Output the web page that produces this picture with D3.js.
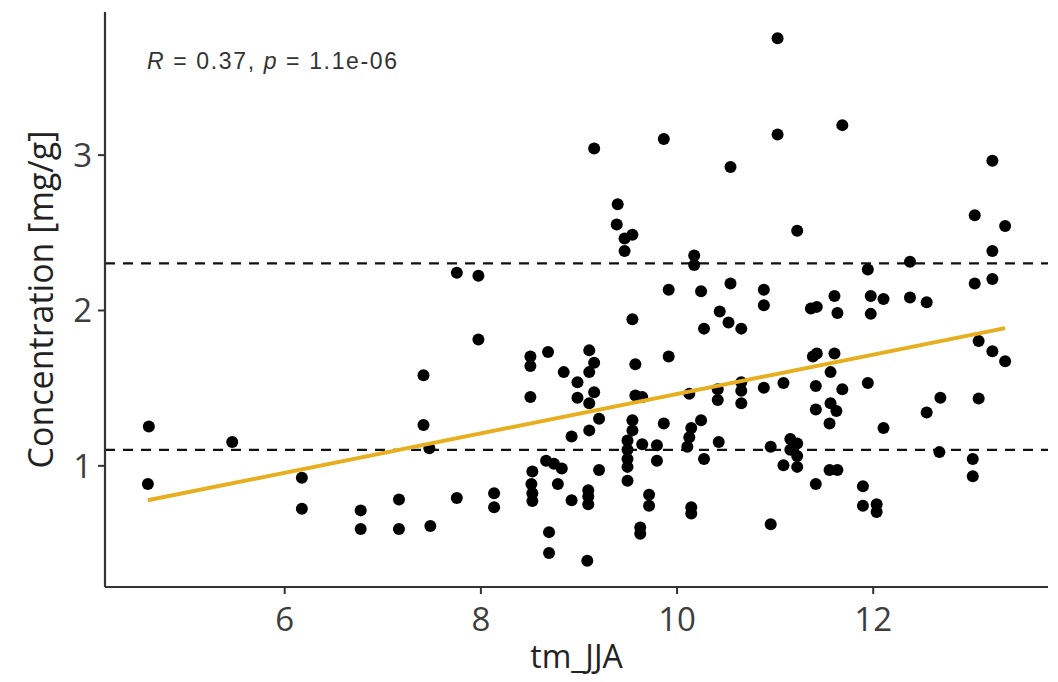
<!DOCTYPE html>
<html>
<head>
<meta charset="utf-8">
<script src="https://cdn.jsdelivr.net/npm/d3@7"></script>
<style>
  html, body { margin: 0; padding: 0; background: #fff; }
  svg { display: block; }
</style>
</head>
<body>
<svg id="chart" width="1058" height="682"></svg>
<script>
// ---- data ----
const tmJJA = [
  4.62, 4.61, 5.47, 6.18, 6.18, 6.78, 6.78, 7.17, 7.17, 7.42,
  7.42, 7.48, 7.49, 7.76, 7.76, 7.98, 7.98, 8.14, 8.14, 8.51,
  8.51, 8.69, 8.51, 8.85, 8.99, 8.99, 9.11, 9.16, 9.11, 9.16,
  9.11, 9.21, 9.11, 8.93, 8.67, 8.75, 8.83, 8.53, 8.52, 8.53,
  8.53, 8.79, 8.93, 9.10, 9.10, 9.10, 9.21, 8.70, 8.70, 9.09,
  9.16, 9.40, 9.39, 9.47, 9.55, 9.47, 9.55, 9.58, 9.58, 9.65,
  9.55, 9.55, 9.50, 9.50, 9.50, 9.50, 9.50, 9.65, 9.72, 9.72,
  9.63, 9.63, 9.87, 9.80, 9.80, 9.92, 9.87, 9.92,
  10.18, 10.18, 10.25, 10.28, 10.13, 10.25, 10.15, 10.13, 10.11, 10.28,
  10.15, 10.15, 10.42, 10.42, 10.43, 10.44, 10.53, 10.66, 10.55, 10.55,
  10.66, 10.66, 10.66, 10.89, 10.89, 10.89, 10.96, 10.96, 11.03, 11.03,
  11.09, 11.16, 11.23, 11.16, 11.23, 11.09, 11.23, 11.23, 11.37, 11.43,
  11.39, 11.43, 11.61, 11.57, 11.69, 11.42, 11.42, 11.57, 11.63, 11.56,
  11.42, 11.56, 11.64, 11.61, 11.64, 11.69, 11.95, 11.98, 12.11, 11.98,
  11.95, 12.11, 11.90, 11.90, 12.04, 12.04, 12.38, 12.38, 12.55, 12.55,
  12.69, 12.68, 13.02, 13.02, 13.08, 13.08, 13.22, 13.35, 13.04, 13.35,
  13.22, 13.04, 13.22, 13.22
];
const concentration = [
  1.25, 0.88, 1.15, 0.92, 0.72, 0.71, 0.59, 0.78, 0.59, 1.58,
  1.26, 1.11, 0.61, 2.24, 0.79, 2.22, 1.81, 0.82, 0.73, 1.70,
  1.64, 1.73, 1.44, 1.60, 1.535, 1.435, 1.74, 1.66, 1.60, 1.47,
  1.40, 1.30, 1.225, 1.185, 1.03, 1.01, 0.98, 0.96, 0.88, 0.82,
  0.77, 0.88, 0.775, 0.84, 0.80, 0.75, 0.97, 0.57, 0.435, 0.385,
  3.04, 2.68, 2.55, 2.46, 2.485, 2.38, 1.94, 1.65, 1.45, 1.44,
  1.29, 1.225, 1.16, 1.10, 1.04, 0.99, 0.90, 1.135, 0.81, 0.74,
  0.60, 0.56, 1.27, 1.13, 1.03, 1.70, 3.10, 2.13,
  2.35, 2.29, 2.12, 1.88, 1.46, 1.29, 1.24, 1.18, 1.12, 1.04,
  0.73, 0.69, 1.49, 1.42, 1.15, 1.99, 1.92, 1.88, 2.17, 2.92,
  1.535, 1.48, 1.40, 2.13, 2.03, 1.50, 1.12, 0.62, 3.75, 3.13,
  1.53, 1.17, 1.14, 1.10, 1.06, 1.00, 0.99, 2.51, 2.01, 2.02,
  1.70, 1.72, 1.72, 1.60, 1.49, 1.51, 1.36, 1.40, 1.35, 1.27,
  0.88, 0.97, 0.97, 2.09, 1.98, 3.19, 2.26, 2.09, 2.07, 1.975,
  1.53, 1.24, 0.865, 0.74, 0.75, 0.70, 2.31, 2.08, 2.05, 1.34,
  1.435, 1.085, 1.04, 0.93, 1.43, 1.80, 1.735, 1.67, 2.61, 2.54,
  2.38, 2.17, 2.20, 2.96
];
const thresholds = [2.3, 1.1];
const xTicks = [6, 8, 10, 12];
const yTicks = [1, 2, 3];
const xTitle = "tm_JJA";
const yTitle = "Concentration [mg/g]";
const statR = "0.37";
const statP = "1.1e-06";

// ---- layout ----
const svg = d3.select("#chart");
const plotL = 105, plotR = 1048, plotT = 12, plotB = 587;
const axisColor = "#333333";
const tickFont = "'Open Sans', 'Noto Sans', sans-serif";

const points = tmJJA.map((v, i) => ({ x: v, y: concentration[i] }));

function expand(ext, f) {
  const r = ext[1] - ext[0];
  return [ext[0] - r * f, ext[1] + r * f];
}
const xs = d3.scaleLinear().domain(expand(d3.extent(tmJJA), 0.05)).range([plotL, plotR]);
const ys = d3.scaleLinear().domain(expand(d3.extent(concentration), 0.05)).range([plotB, plotT]);

// ---- threshold lines ----
svg.append("g").selectAll("line").data(thresholds).join("line")
  .attr("x1", plotL).attr("x2", plotR)
  .attr("y1", d => ys(d)).attr("y2", d => ys(d))
  .attr("stroke", "#111").attr("stroke-width", 2.2)
  .attr("stroke-dasharray", "10,8");

// ---- points ----
svg.append("g").selectAll("circle").data(points).join("circle")
  .attr("cx", d => xs(d.x)).attr("cy", d => ys(d.y)).attr("r", 6)
  .attr("fill", "#000");

// ---- regression line (least squares from the data) ----
const mx = d3.mean(tmJJA), my = d3.mean(concentration);
const sxy = d3.sum(points, d => (d.x - mx) * (d.y - my));
const sxx = d3.sum(points, d => (d.x - mx) ** 2);
const slope = sxy / sxx, intercept = my - slope * mx;
const xr = d3.extent(tmJJA);
svg.append("line")
  .attr("x1", xs(xr[0])).attr("y1", ys(intercept + slope * xr[0]))
  .attr("x2", xs(xr[1])).attr("y2", ys(intercept + slope * xr[1]))
  .attr("stroke", "#E7AE1E").attr("stroke-width", 4).attr("stroke-linecap", "butt");

// ---- axes ----
const xAxis = svg.append("g").attr("transform", `translate(0,${plotB})`)
  .call(d3.axisBottom(xs).tickValues(xTicks).tickSize(7).tickPadding(6).tickFormat(d3.format("d")));
const yAxis = svg.append("g").attr("transform", `translate(${plotL},0)`)
  .call(d3.axisLeft(ys).tickValues(yTicks).tickSize(7).tickPadding(6).tickFormat(d3.format("d")));
[xAxis, yAxis].forEach(g => {
  g.select(".domain").attr("stroke", axisColor).attr("stroke-width", 2.2);
  g.selectAll(".tick line").attr("stroke", axisColor).attr("stroke-width", 2);
  g.selectAll(".tick text").attr("fill", "#3d3d3d")
    .style("font-family", tickFont).style("font-size", "33px");
});
xAxis.select(".domain").attr("d", `M${plotL},0H${plotR}`);
yAxis.select(".domain").attr("d", `M0,${plotT}V${plotB}`);
xAxis.selectAll(".tick text").attr("dy", "0.95em");
yAxis.selectAll(".tick text").attr("dy", "0.36em");

// ---- titles ----
svg.append("text")
  .attr("x", (plotL + plotR) / 2).attr("y", 668)
  .attr("text-anchor", "middle")
  .style("font-family", tickFont).style("font-size", "32px").attr("fill", "#222")
  .text(xTitle);
svg.append("text")
  .attr("transform", `translate(53,${(plotT + plotB) / 2}) rotate(-90)`)
  .attr("text-anchor", "middle")
  .style("font-family", tickFont).style("font-size", "34px").attr("fill", "#222")
  .text(yTitle);

// ---- correlation annotation ----
const ann = svg.append("text")
  .attr("x", 147).attr("y", 69)
  .style("font-family", "'Liberation Sans', Arial, sans-serif").style("font-size", "23px")
  .attr("fill", "#333")
  .attr("textLength", 250).attr("lengthAdjust", "spacing");
ann.append("tspan").style("font-style", "italic").text("R");
ann.append("tspan").text(` = ${statR}, `);
ann.append("tspan").style("font-style", "italic").text("p");
ann.append("tspan").text(` = ${statP}`);
</script>
</body>
</html>
